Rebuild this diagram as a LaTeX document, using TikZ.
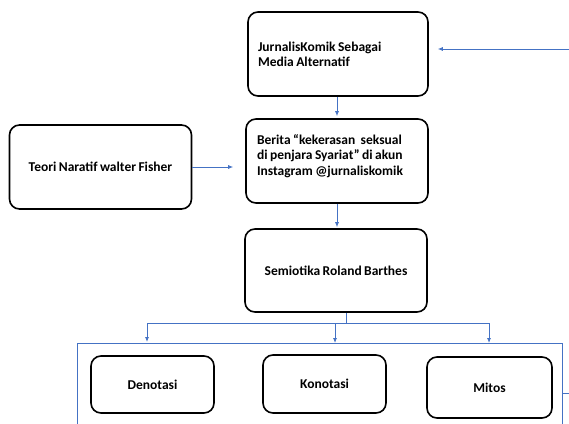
\documentclass[tikz,border=0pt]{standalone}
\usepackage{fontspec}
\setmainfont{Carlito}[WordSpace=0.8]
\usetikzlibrary{arrows.meta}

\begin{document}
\begin{tikzpicture}[x=1pt,y=1pt,
  box/.style={draw,line width=1.6pt,rounded corners=10pt,
    font=\fontsize{13.5}{15.2}\selectfont\bfseries,inner sep=0pt,align=center},
  link/.style={draw={rgb,255:red,68;green,114;blue,196},line width=0.8pt,
    -{Latex[length=5pt,width=4pt]}},
  line/.style={draw={rgb,255:red,68;green,114;blue,196},line width=0.8pt}]
\useasboundingbox (0,0) rectangle (569,-423);
\node [box,minimum width=180pt,minimum height=84pt,text width=160pt,align=flush left] (a) at (338,-54)
  {JurnalisKomik Sebagai\\Media Alternatif};
\node [box,minimum width=182pt,minimum height=84pt,text width=160pt,align=flush left] (b) at (337,-161)
  {Berita ``kekerasan\hspace{3pt} seksual\\di penjara Syariat'' di akun\\Instagram @jurnaliskomik\\[-3pt]\mbox{}};
\node [box,minimum width=182pt,minimum height=84pt] (c) at (100.5,-167)
  {Teori Naratif walter Fisher};
\node [box,minimum width=182pt,minimum height=83pt] (d) at (336,-270.5)
  {Semiotika Roland Barthes};
\node [box,minimum width=123pt,minimum height=57pt] (e) at (152.5,-384.5) {Denotasi};
\node [box,minimum width=123pt,minimum height=58pt] (f) at (324.5,-384) {Konotasi};
\node [box,minimum width=125pt,minimum height=61pt] (g) at (489.5,-387.5) {Mitos};
% frame round the three boxes
\draw [line] (77,-440) |- (562,-343) -- (562,-440);
\coordinate (h) at (346,-323);
\coordinate (h1) at (147,-323);
\coordinate (h2) at (335,-323);
\coordinate (h3) at (489,-323);
\coordinate (r1) at (562,-393);
\coordinate (r2) at (569,-393);
\coordinate (r3) at (569,-49);
\draw [link,shorten >=2pt] (a.south -| b.north) -- (b.north);
\draw [link,shorten >=12pt] (c.east) -- (c.east -| b.west);
\draw [link,shorten >=1pt] (b.south) -- (b.south |- d.north);
\draw [line] (d.south -| h) -- (h);
\draw [line] (h1) -- (h3);
\draw [link] (h1) -- ++(0,-19);
\draw [link] (h2) -- ++(0,-20);
\draw [link] (h3) -- ++(0,-20);
\draw [line] (r1) -- (r2) -- (r3);
\draw [link,shorten >=9pt] (r3) -- (r3 -| a.east);
\end{tikzpicture}
\end{document}
